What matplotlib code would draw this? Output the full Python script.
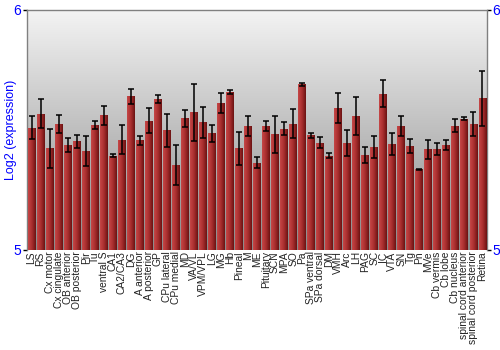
import numpy as np
import matplotlib
matplotlib.use("Agg")
import matplotlib.pyplot as plt
from matplotlib.colors import LinearSegmentedColormap

categories = ["LS", "RS", "Cx motor", "Cx cingulate", "OB anterior", "OB posterior", "Pir", "Tu",
              "ventral S", "CA1", "CA2/CA3", "DG", "A anterior", "A posterior", "GP", "CPu lateral",
              "CPu medial", "MD", "VA/VL", "VPM/VPL", "LG", "MG", "Hb", "Pineal", "M", "ME",
              "Pituitary", "SCN", "MPA", "SO", "Pa", "SPa ventral", "SPa dorsal", "DM", "VMH", "Arc",
              "LH", "PAG", "SC", "IC", "VTA", "SN", "Tg", "Pn", "MVe", "Cb vermis", "Cb lobe",
              "Cb nucleus", "spinal cord anterior", "spinal cord posterior", "Retina"]
values = [5.509, 5.568, 5.423, 5.523, 5.437, 5.452, 5.412, 5.520, 5.560, 5.393, 5.459, 5.640,
          5.456, 5.538, 5.627, 5.498, 5.353, 5.548, 5.573, 5.531, 5.486, 5.611, 5.657, 5.423,
          5.516, 5.364, 5.516, 5.481, 5.505, 5.526, 5.689, 5.477, 5.447, 5.393, 5.591, 5.445,
          5.557, 5.397, 5.430, 5.650, 5.440, 5.516, 5.432, 5.336, 5.419, 5.420, 5.438, 5.517,
          5.546, 5.523, 5.631]
errors = [0.048, 0.061, 0.080, 0.038, 0.030, 0.026, 0.062, 0.015, 0.040, 0.008, 0.061, 0.032,
          0.019, 0.051, 0.017, 0.068, 0.082, 0.035, 0.119, 0.065, 0.035, 0.041, 0.008, 0.069,
          0.041, 0.022, 0.021, 0.076, 0.028, 0.062, 0.006, 0.010, 0.024, 0.010, 0.062, 0.054,
          0.080, 0.033, 0.046, 0.056, 0.045, 0.041, 0.029, 0.002, 0.040, 0.024, 0.021, 0.028,
          0.006, 0.050, 0.114]
y_ticks = [5, 6]

fig = plt.figure(figsize=(5, 3.5), dpi=100)
ax = fig.add_axes([0.054, 0.286, 0.92, 0.686])
n = len(categories)
x = np.arange(n)
ax.set_xlim(-0.5, n - 0.5)
ax.set_ylim(5, 6)

# background gradient
bg = LinearSegmentedColormap.from_list("bg", ["#8a8a8a", "#f4f4f4"])
grad = np.linspace(0, 1, 256).reshape(-1, 1)
ax.imshow(grad, extent=[-0.5, n - 0.5, 5, 6], origin="lower", aspect="auto", cmap=bg, zorder=0)

# bars with horizontal gradient
bars = ax.bar(x, np.array(values) - 5, bottom=5, width=0.88, color="#b03434", zorder=2, linewidth=0)
barcm = LinearSegmentedColormap.from_list("bar", ["#c44848", "#b83a3a", "#a82e2e", "#8a2020", "#6a1212"])
hgrad = np.linspace(0, 1, 64).reshape(1, -1)
for b in bars:
    bx, by = b.get_x(), b.get_y()
    w, h = b.get_width(), b.get_height()
    im = ax.imshow(hgrad, extent=[bx, bx + w, by, by + h], aspect="auto", cmap=barcm, zorder=3)
    im.set_clip_path(b)

eb = ax.errorbar(x, values, yerr=errors, fmt="none", ecolor="black", elinewidth=1.1,
                 capsize=2.2, capthick=1.1, zorder=4)
for cap in eb[1]:
    cap.set_color("#444444")

ax.set_xticks(x)
ax.set_xticklabels(categories, rotation=90, fontsize=7.4, color="#222222",
                   family=["Liberation Sans", "DejaVu Sans"])
ax.tick_params(axis="x", length=0, pad=1)
ax.set_yticks(y_ticks)
ax.set_yticklabels([str(t) for t in y_ticks], color="blue", fontsize=10,
                   family=["Liberation Sans", "DejaVu Sans"])
ax.tick_params(axis="y", which="both", left=True, right=True, labelleft=True, labelright=True,
               length=3, width=1, color="black", pad=1)
ax.set_ylabel("Log2 (expression)", color="blue", fontsize=9,
              family=["Liberation Sans", "DejaVu Sans"])
ax.yaxis.set_label_coords(-0.022, 0.5)
for s in ["top", "left", "right"]:
    ax.spines[s].set_color("#808080")
    ax.spines[s].set_linewidth(1)
ax.spines["bottom"].set_visible(False)

fig.savefig("out.png", dpi=100)
